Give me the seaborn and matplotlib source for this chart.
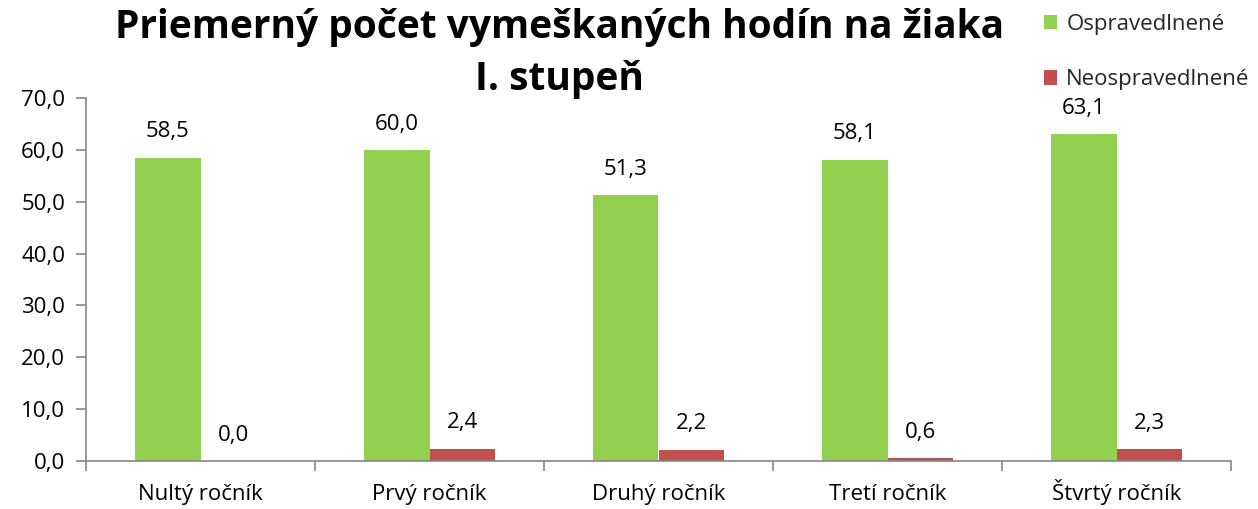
import matplotlib
matplotlib.use("Agg")
import matplotlib.pyplot as plt
import seaborn as sns
import pandas as pd
import numpy as np
from matplotlib.ticker import FixedLocator, FuncFormatter
from matplotlib.patches import Patch

categories = ["Nultý ročník", "Prvý ročník", "Druhý ročník", "Tretí ročník", "Štvrtý ročník"]
ospravedlnene = [58.5, 60.0, 51.3, 58.1, 63.1]
neospravedlnene = [0.0, 2.4, 2.2, 0.6, 2.3]
series_names = ["Ospravedlnené", "Neospravedlnené"]
colors = ["#92D050", "#C0504D"]
title = "Priemerný počet vymeškaných hodín na žiaka\nI. stupeň"

df = pd.DataFrame({
    "cat": categories * 2,
    "val": ospravedlnene + neospravedlnene,
    "ser": [series_names[0]] * len(categories) + [series_names[1]] * len(categories),
})

sns.set_theme(style="white")
plt.rcParams["font.family"] = ["Open Sans", "DejaVu Sans"]

fig = plt.figure(figsize=(12.58, 5.09), dpi=100)
ax = fig.add_axes([86 / 1258, 1 - 461 / 509, (1231 - 86) / 1258, (461 - 98) / 509])

sns.barplot(data=df, x="cat", y="val", hue="ser", palette=colors, width=0.57,
            dodge=True, ax=ax, legend=False, saturation=1, linewidth=0)

for cont in ax.containers:
    ax.bar_label(cont, labels=[f"{v:.1f}".replace(".", ",") for v in cont.datavalues],
                 padding=11, fontsize=16, color="#000000")

ax.set_ylim(0, 70)
ax.set_xlim(-0.5, len(categories) - 0.5)
ax.yaxis.set_major_locator(FixedLocator(np.arange(0, 71, 10)))
ax.yaxis.set_major_formatter(FuncFormatter(lambda v, p: f"{v:.1f}".replace(".", ",")))
ax.set_xlabel("")
ax.set_ylabel("")

for s in ["top", "right"]:
    ax.spines[s].set_visible(False)
for s in ["left", "bottom"]:
    ax.spines[s].set_color("#868686")
    ax.spines[s].set_linewidth(1.2)

ax.tick_params(axis="y", which="major", left=True, length=7, width=1.2, color="#868686",
               labelsize=16, labelcolor="#000000", pad=8)
ax.tick_params(axis="x", which="major", bottom=False, labelsize=16, labelcolor="#000000", pad=22)
for lbl in ax.get_xticklabels():
    lbl.set_verticalalignment("baseline")
ax.xaxis.set_minor_locator(FixedLocator(np.arange(-0.5, len(categories), 1.0)))
ax.tick_params(axis="x", which="minor", bottom=True, length=7, width=1.2, color="#868686")

fig.text(0.445, 0.985, title, ha="center", va="top", fontsize=28, fontweight="bold",
         color="#000000", linespacing=1.45)

handles = [Patch(facecolor=c, edgecolor="none") for c in colors]
fig.legend(handles, series_names, loc="upper left", bbox_to_anchor=(0.814, 1.012),
           frameon=False, fontsize=16, handlelength=0.6, handleheight=0.6,
           handletextpad=0.4, labelspacing=1.55)

fig.savefig("out.png", dpi=100)
